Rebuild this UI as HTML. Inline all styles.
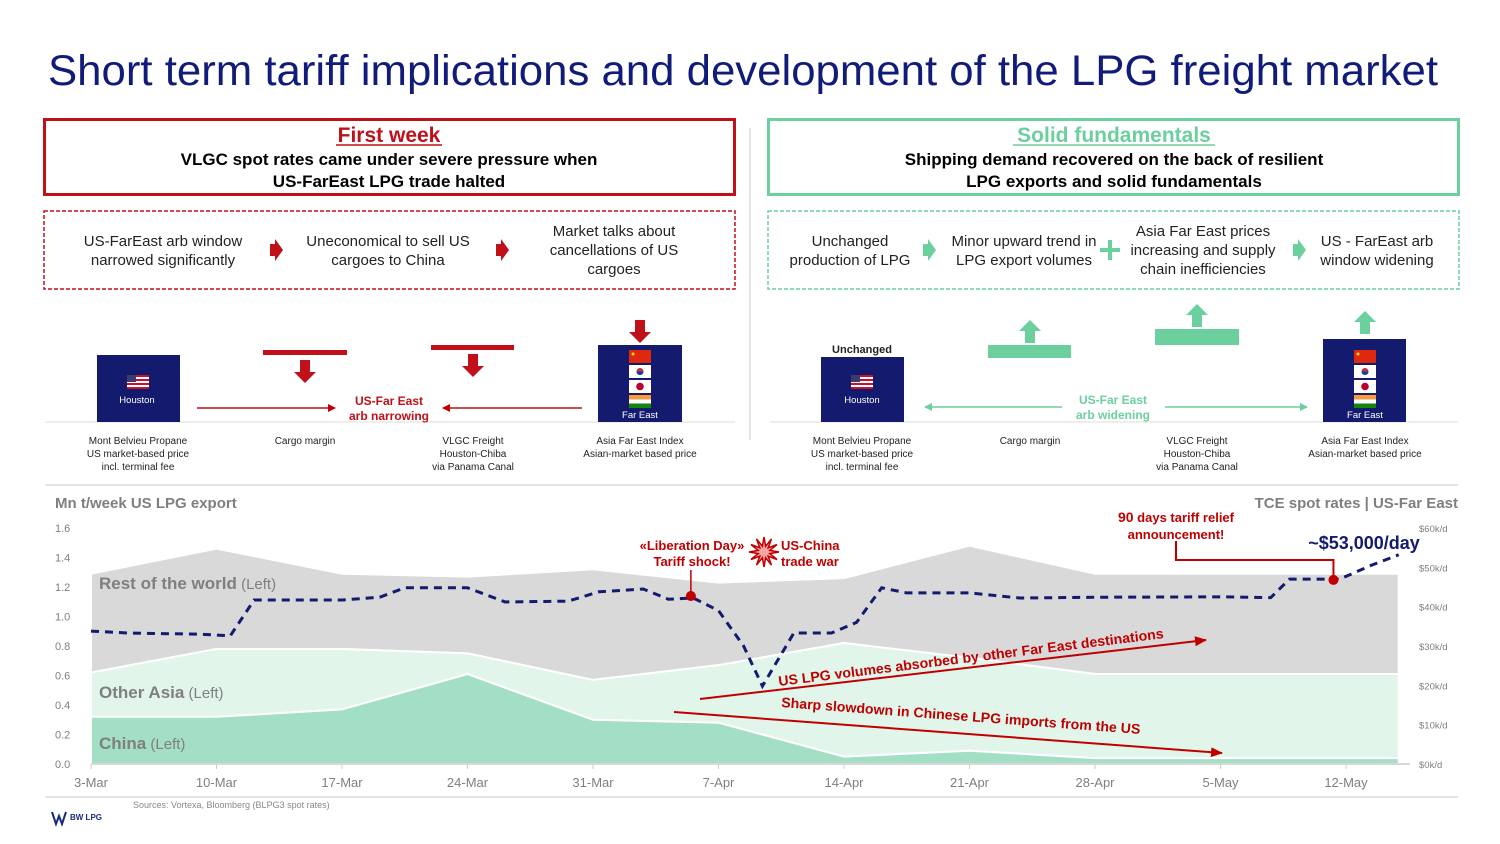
<!DOCTYPE html>
<html><head><meta charset="utf-8"><style>
html,body{margin:0;padding:0;background:#fff}
svg{display:block;font-family:"Liberation Sans",Arial,sans-serif}
</style></head><body>
<svg id="s" width="1500" height="844" viewBox="0 0 1500 844" xmlns="http://www.w3.org/2000/svg">
<defs>
<marker id="ar" markerWidth="8" markerHeight="8" refX="7" refY="4" orient="auto" markerUnits="userSpaceOnUse"><path d="M0,0 L8,4 L0,8 z" fill="#c00000"/></marker>
<marker id="ag" markerWidth="8" markerHeight="8" refX="7" refY="4" orient="auto" markerUnits="userSpaceOnUse"><path d="M0,0 L8,4 L0,8 z" fill="#6ccf9e"/></marker>
<marker id="ar2" markerWidth="12" markerHeight="10" refX="11" refY="5" orient="auto" markerUnits="userSpaceOnUse"><path d="M0,0 L12,5 L0,10 z" fill="#c00000"/></marker>
<g id="usflag"><rect x="-11" y="-7" width="22" height="14" fill="#fff"/><rect x="-11" y="-7" width="22" height="2" fill="#c8102e"/><rect x="-11" y="-3" width="22" height="2" fill="#c8102e"/><rect x="-11" y="1" width="22" height="2" fill="#c8102e"/><rect x="-11" y="5" width="22" height="2" fill="#c8102e"/><rect x="-11" y="-7" width="9" height="7" fill="#3c3b6e"/></g>
<g id="feflags">
<rect x="-11" y="-7" width="22" height="13" fill="#de2910"/><circle cx="-7" cy="-3" r="1.5" fill="#ffde00"/>
<rect x="-11" y="8" width="22" height="13" fill="#fff"/><circle cx="0" cy="14.5" r="3.5" fill="#cd2e3a"/><path d="M-3.5,14.5 a3.5,3.5 0 0 0 7,0z" fill="#0047a0"/>
<rect x="-11" y="23" width="22" height="13" fill="#fff"/><circle cx="0" cy="29.5" r="3.8" fill="#bc002d"/>
<rect x="-11" y="38" width="22" height="4.3" fill="#ff9933"/><rect x="-11" y="42.3" width="22" height="4.3" fill="#fff"/><rect x="-11" y="46.6" width="22" height="4.4" fill="#138808"/>
</g>
</defs>

<text x="48" y="85" font-size="43" fill="#101b7a" textLength="1390" lengthAdjust="spacingAndGlyphs">Short term tariff implications and development of the LPG freight market</text>

<g>
<rect x="44.5" y="119.5" width="690" height="75" fill="#fff" stroke="#c0101a" stroke-width="3"/>
<text x="389" y="142" font-size="21" font-weight="bold" fill="#c0101a" text-anchor="middle">First week</text>
<line x1="336" y1="145" x2="442" y2="145" stroke="#c0101a" stroke-width="1.5"/>
<text x="389" y="165" font-size="17" font-weight="bold" fill="#000" text-anchor="middle">VLGC spot rates came under severe pressure when</text>
<text x="389" y="187" font-size="17" font-weight="bold" fill="#000" text-anchor="middle">US-FarEast LPG trade halted</text>
</g>
<g>
<rect x="768.5" y="119.5" width="690" height="75" fill="#fff" stroke="#6ccf9e" stroke-width="3"/>
<text x="1114" y="142" font-size="21" font-weight="bold" fill="#6ccf9e" text-anchor="middle">Solid fundamentals</text>
<line x1="1013" y1="145" x2="1215" y2="145" stroke="#6ccf9e" stroke-width="1.5"/>
<text x="1114" y="165" font-size="17" font-weight="bold" fill="#000" text-anchor="middle">Shipping demand recovered on the back of resilient</text>
<text x="1114" y="187" font-size="17" font-weight="bold" fill="#000" text-anchor="middle">LPG exports and solid fundamentals</text>
</g>

<g font-size="15" fill="#222" text-anchor="middle">
<rect x="44" y="211" width="691" height="78" fill="none" stroke="#c0101a" stroke-width="1.5" stroke-dasharray="4,2"/>
<text x="163" y="246">US-FarEast arb window</text><text x="163" y="265">narrowed significantly</text>
<path d="M270,244 h5 v-5 l8,11 l-8,11 v-5 h-5z" fill="#c0101a"/>
<text x="388" y="246">Uneconomical to sell US</text><text x="388" y="265">cargoes to China</text>
<path d="M496,244 h5 v-5 l8,11 l-8,11 v-5 h-5z" fill="#c0101a"/>
<text x="614" y="236">Market talks about</text><text x="614" y="255">cancellations of US</text><text x="614" y="274">cargoes</text>
</g>
<g font-size="15" fill="#222" text-anchor="middle">
<rect x="768" y="211" width="691" height="78" fill="none" stroke="#6ccf9e" stroke-width="1.5" stroke-dasharray="4,2"/>
<text x="850" y="246">Unchanged</text><text x="850" y="265">production of LPG</text>
<path d="M923,244 h5 v-5 l8,11 l-8,11 v-5 h-5z" fill="#6ccf9e"/>
<text x="1024" y="246">Minor upward trend in</text><text x="1024" y="265">LPG export volumes</text>
<path d="M1110,242 h4 v-8 h4 v8 h8 v4 h-8 v8 h-4 v-8 h-8 v-4z" fill="#6ccf9e" transform="translate(-6,6)"/>
<text x="1203" y="236">Asia Far East prices</text><text x="1203" y="255">increasing and supply</text><text x="1203" y="274">chain inefficiencies</text>
<path d="M1293,244 h5 v-5 l8,11 l-8,11 v-5 h-5z" fill="#6ccf9e"/>
<text x="1377" y="246">US - FarEast arb</text><text x="1377" y="265">window widening</text>
</g>

<line x1="750" y1="128" x2="750" y2="440" stroke="#ddd" stroke-width="1.5"/>

<g>
<line x1="45" y1="422" x2="735" y2="422" stroke="#ddd"/>
<rect x="97" y="355" width="83" height="67" fill="#141a6e"/>
<use href="#usflag" x="138" y="382"/>
<text x="137" y="403" font-size="9.5" fill="#fff" text-anchor="middle">Houston</text>
<rect x="263" y="350" width="84" height="5" fill="#c0101a"/>
<path d="M300,360 h10 v12 h6 l-11,11 l-11,-11 h6z" fill="#c0101a"/>
<rect x="431" y="345" width="83" height="5" fill="#c0101a"/>
<path d="M468,354 h10 v12 h6 l-11,11 l-11,-11 h6z" fill="#c0101a"/>
<rect x="598" y="345" width="84" height="77" fill="#141a6e"/>
<use href="#feflags" x="640" y="357"/>
<text x="640" y="418" font-size="9.5" fill="#fff" text-anchor="middle">Far East</text>
<path d="M635,320 h10 v12 h6 l-11,11 l-11,-11 h6z" fill="#c0101a"/>
<line x1="197" y1="408" x2="335" y2="408" stroke="#c0101a" stroke-width="1.5" marker-end="url(#ar)"/>
<line x1="582" y1="408" x2="443" y2="408" stroke="#c0101a" stroke-width="1.5" marker-end="url(#ar)"/>
<text x="389" y="405" font-size="12" font-weight="bold" fill="#c0101a" text-anchor="middle">US-Far East</text>
<text x="389" y="420" font-size="12" font-weight="bold" fill="#c0101a" text-anchor="middle">arb narrowing</text>
<g font-size="10" fill="#222" text-anchor="middle">
<text x="138" y="444">Mont Belvieu Propane</text><text x="138" y="457">US market-based price</text><text x="138" y="470">incl. terminal fee</text>
<text x="305" y="444">Cargo margin</text>
<text x="473" y="444">VLGC Freight</text><text x="473" y="457">Houston-Chiba</text><text x="473" y="470">via Panama Canal</text>
<text x="640" y="444">Asia Far East Index</text><text x="640" y="457">Asian-market based price</text>
</g>
</g>
<g>
<line x1="770" y1="422" x2="1458" y2="422" stroke="#ddd"/>
<text x="862" y="353" font-size="11" font-weight="bold" fill="#222" text-anchor="middle">Unchanged</text>
<rect x="821" y="357" width="83" height="65" fill="#141a6e"/>
<use href="#usflag" x="862" y="382"/>
<text x="862" y="403" font-size="9.5" fill="#fff" text-anchor="middle">Houston</text>
<rect x="988" y="345" width="83" height="13" fill="#6ccf9e"/>
<path d="M1025,343 h10 v-12 h6 l-11,-11 l-11,11 h6z" fill="#6ccf9e"/>
<rect x="1155" y="329" width="84" height="16" fill="#6ccf9e"/>
<path d="M1192,327 h10 v-12 h6 l-11,-11 l-11,11 h6z" fill="#6ccf9e"/>
<rect x="1323" y="339" width="83" height="83" fill="#141a6e"/>
<use href="#feflags" x="1365" y="357"/>
<text x="1365" y="418" font-size="9.5" fill="#fff" text-anchor="middle">Far East</text>
<path d="M1360,334 h10 v-12 h6 l-11,-11 l-11,11 h6z" fill="#6ccf9e"/>
<line x1="1062" y1="407" x2="925" y2="407" stroke="#6ccf9e" stroke-width="1.5" marker-end="url(#ag)"/>
<line x1="1165" y1="407" x2="1307" y2="407" stroke="#6ccf9e" stroke-width="1.5" marker-end="url(#ag)"/>
<text x="1113" y="404" font-size="12" font-weight="bold" fill="#6ccf9e" text-anchor="middle">US-Far East</text>
<text x="1113" y="419" font-size="12" font-weight="bold" fill="#6ccf9e" text-anchor="middle">arb widening</text>
<g font-size="10" fill="#222" text-anchor="middle">
<text x="862" y="444">Mont Belvieu Propane</text><text x="862" y="457">US market-based price</text><text x="862" y="470">incl. terminal fee</text>
<text x="1030" y="444">Cargo margin</text>
<text x="1197" y="444">VLGC Freight</text><text x="1197" y="457">Houston-Chiba</text><text x="1197" y="470">via Panama Canal</text>
<text x="1365" y="444">Asia Far East Index</text><text x="1365" y="457">Asian-market based price</text>
</g>
</g>

<line x1="45" y1="485" x2="1458" y2="485" stroke="#ddd" stroke-width="1.5"/>
<text x="55" y="508" font-size="15" font-weight="bold" fill="#7f7f7f">Mn t/week US LPG export</text>
<text x="1458" y="508" font-size="15" font-weight="bold" fill="#7f7f7f" text-anchor="end">TCE spot rates | US-Far East</text>

<g id="chart"></g>

<line x1="45" y1="797" x2="1458" y2="797" stroke="#ddd" stroke-width="1.5"/>
<text x="133" y="808" font-size="9" fill="#888">Sources: Vortexa, Bloomberg (BLPG3 spot rates)</text>
<g>
<path d="M52,812 l4,12 l3,-8 l3,8 l4,-12" fill="none" stroke="#1a2a7a" stroke-width="2"/>
<text x="70" y="820" font-size="8" font-weight="bold" fill="#1a2a7a">BW LPG</text>
</g>
</svg>
<script>
const dates=["3-Mar","10-Mar","17-Mar","24-Mar","31-Mar","7-Apr","14-Apr","21-Apr","28-Apr","5-May","12-May"];
const areaX=[0,1,2,3,4,5,6,7,8,9,10,10.42];
const china=[0.32,0.32,0.37,0.61,0.30,0.28,0.05,0.09,0.04,0.04,0.04,0.04];
const otherAsia=[0.30,0.46,0.41,0.14,0.27,0.39,0.77,0.63,0.57,0.57,0.57,0.57];
const restWorld=[0.67,0.68,0.51,0.52,0.75,0.56,0.44,0.76,0.68,0.68,0.68,0.68];
const leftTicks=[0,0.2,0.4,0.6,0.8,1.0,1.2,1.4,1.6];
const rightTicks=["$0k/d","$10k/d","$20k/d","$30k/d","$40k/d","$50k/d","$60k/d"];
const rightTickVals=[0,10,20,30,40,50,60];
const tceX=[0,0.3,0.87,1.11,1.3,2.0,2.3,2.5,3.0,3.3,3.8,4.05,4.4,4.6,4.8,5.0,5.2,5.35,5.6,5.9,6.1,6.3,6.5,7.0,7.4,8.0,9.0,9.4,9.55,9.95,10.2,10.42];
const tce=[33.8,33.3,33.0,32.6,41.7,41.7,42.4,44.8,44.8,41.2,41.4,43.8,44.5,41.9,42.2,39,30,19.8,33.3,33.3,36,44.8,43.5,43.5,42.2,42.4,42.5,42.3,47,47,50.5,53.2];
const eventX=[4.78,9.9];
const eventVal=[42.7,46.8];

const NS="http://www.w3.org/2000/svg";
const g=document.getElementById('chart');
const X=i=>91+i*125.5;
const YL=v=>764-v*147.5;
const YR=v=>764-v*3.933;
function mk(t,a,txt){const e=document.createElementNS(NS,t);for(const k in a)e.setAttribute(k,a[k]);if(txt!=null)e.textContent=txt;g.appendChild(e);return e;}

const top1=china.slice(),top2=china.map((c,i)=>c+otherAsia[i]),top3=top2.map((c,i)=>c+restWorld[i]);
function areaPath(up,low){let d='';up.forEach((v,i)=>d+=(i?'L':'M')+X(areaX[i])+','+YL(v));for(let i=low.length-1;i>=0;i--)d+='L'+X(areaX[i])+','+YL(low[i]);return d+'Z';}
const zero=china.map(()=>0);
let e;
e=mk('path',{d:areaPath(top3,top2),fill:'#d9d9d9',stroke:'#fff','stroke-width':2});


e=mk('path',{d:areaPath(top2,top1),fill:'#e1f5eb',stroke:'#fff','stroke-width':2});


e=mk('path',{d:areaPath(top1,zero),fill:'#a3dfc4',stroke:'#fff','stroke-width':2});



mk('line',{x1:91,y1:764,x2:1410,y2:764,stroke:'#ccc','stroke-width':1.5});
dates.forEach((d,i)=>{mk('line',{x1:X(i),y1:764,x2:X(i),y2:769,stroke:'#ccc'});
 e=mk('text',{x:X(i),y:787,'font-size':13,fill:'#7f7f7f','text-anchor':'middle'},d);
 
 });
leftTicks.forEach(v=>{e=mk('text',{x:55,y:YL(v)+4,'font-size':11,fill:'#7f7f7f'},v.toFixed(1));
 
 });
rightTickVals.forEach((v,i)=>{e=mk('text',{x:1419,y:YR(v)+4,'font-size':9.5,fill:'#7f7f7f'},rightTicks[i]);
 
 });

function lbl(y,name,dn){e=mk('text',{x:99,y:y,'font-size':17,fill:'#7f7f7f'});
 const a=document.createElementNS(NS,'tspan');a.setAttribute('font-weight','bold');a.textContent=name;e.appendChild(a);
 const b=document.createElementNS(NS,'tspan');b.setAttribute('font-size','15');b.textContent=' (Left)';e.appendChild(b);
 
 }
lbl(589,'Rest of the world','label-rest-of-world');lbl(698,'Other Asia','label-other-asia');lbl(749,'China','label-china');

e=mk('line',{x1:700,y1:699,x2:1206,y2:640,stroke:'#c00000','stroke-width':2,'marker-end':'url(#ar2)'});


e=mk('line',{x1:674,y1:712,x2:1222,y2:753,stroke:'#c00000','stroke-width':2,'marker-end':'url(#ar2)'});


e=mk('text',{x:779,y:686,'font-size':14,'font-weight':'bold',fill:'#c00000',textLength:388,lengthAdjust:'spacingAndGlyphs',transform:'rotate(-7.1 779 686)'},'US LPG volumes absorbed by other Far East destinations');


e=mk('text',{x:781,y:707,'font-size':14,'font-weight':'bold',fill:'#c00000',textLength:360,lengthAdjust:'spacingAndGlyphs',transform:'rotate(4.3 781 707)'},'Sharp slowdown in Chinese LPG imports from the US');



let d='';tceX.forEach((x,i)=>d+=(i?'L':'M')+X(x)+','+YR(tce[i]));
e=mk('path',{d:d,fill:'none',stroke:'#141a6e','stroke-width':3,'stroke-dasharray':'8,6'});



const ex0=X(eventX[0]),ey0=YR(eventVal[0]),ex1=X(eventX[1]),ey1=YR(eventVal[1]);
mk('line',{x1:ex0,y1:570,x2:ex0,y2:ey0,stroke:'#c00000','stroke-width':1.5});
mk('path',{d:`M1176,541 V560 H${ex1} V${ey1}`,fill:'none',stroke:'#c00000','stroke-width':2});
e=mk('circle',{cx:ex0,cy:ey0,r:5,fill:'#c00000'});


e=mk('circle',{cx:ex1,cy:ey1,r:5,fill:'#c00000'});


mk('text',{x:692,y:550,'font-size':13,'font-weight':'bold',fill:'#c00000','text-anchor':'middle'},'«Liberation Day»');
mk('text',{x:692,y:566,'font-size':13,'font-weight':'bold',fill:'#c00000','text-anchor':'middle'},'Tariff shock!');
let sp='';for(let i=0;i<24;i++){const r=i%2?6:15,a=i*Math.PI/12;sp+=(i?'L':'M')+(764+r*Math.cos(a)).toFixed(1)+','+(552+r*Math.sin(a)).toFixed(1);}
e=mk('path',{d:sp+'Z',fill:'#f4a5a5',stroke:'#c00000','stroke-width':1.5});


mk('text',{x:781,y:550,'font-size':13,'font-weight':'bold',fill:'#c00000'},'US-China');
mk('text',{x:781,y:566,'font-size':13,'font-weight':'bold',fill:'#c00000'},'trade war');
e=mk('text',{x:1176,y:522,'font-size':13,'font-weight':'bold',fill:'#c00000','text-anchor':'middle'});
e.innerHTML='<tspan font-weight="bold" font-size="14">90</tspan> days tariff relief';
mk('text',{x:1176,y:539,'font-size':13,'font-weight':'bold',fill:'#c00000','text-anchor':'middle'},'announcement!');
e=mk('text',{x:1364,y:549,'font-size':18,'font-weight':'bold',fill:'#141a6e','text-anchor':'middle'},'~$53,000/day');


</script>
</body></html>
